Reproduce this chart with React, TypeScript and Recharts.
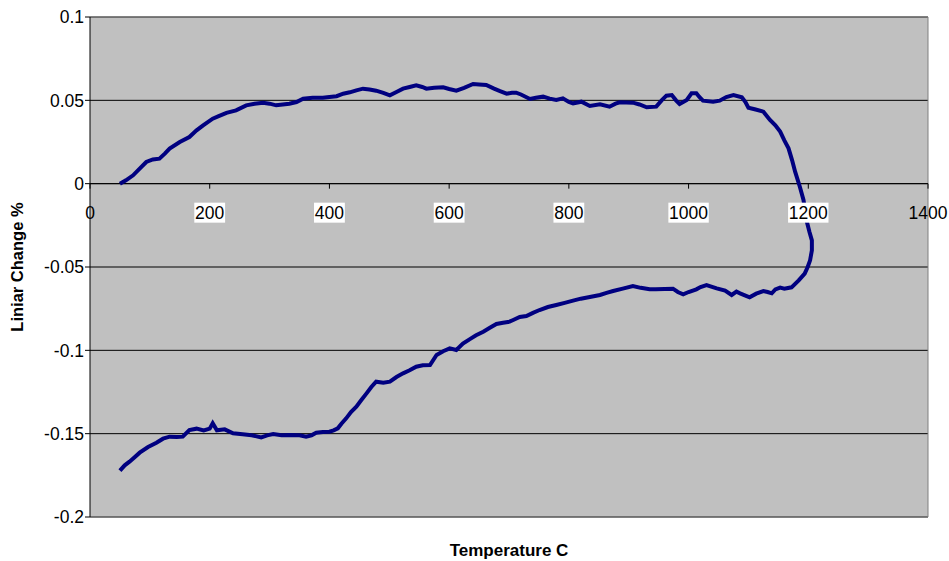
import React from 'react';
import {
    LineChart,
    Line,
    XAxis,
    YAxis,
    CartesianGrid,
    ReferenceLine,
    ReferenceDot
} from 'recharts';

// heating run then cooling run, in measurement order
const temps = [
    50, 60, 72, 83, 94, 105, 116, 125, 133, 150, 166, 178, 189, 205, 215, 228, 244, 261, 275, 289,
    300, 311, 322, 333, 345, 356, 372, 389, 400, 412, 423, 434, 445, 456, 467, 478, 490, 501, 512, 523,
    534, 545, 555, 562, 575, 590, 600, 612, 625, 640, 650, 662, 675, 685, 696, 705, 712, 720, 735, 745,
    757, 768, 779, 790, 800, 807, 821, 835, 852, 868, 878, 885, 907, 918, 930, 946, 955, 963, 972, 979,
    985, 997, 1005, 1013, 1018, 1024, 1041, 1052, 1063, 1075, 1089, 1095, 1100, 1112, 1125, 1136, 1145, 1153, 1160, 1167,
    1173, 1178, 1186, 1192, 1197, 1202, 1206, 1206, 1203, 1199, 1194, 1184, 1172, 1160, 1153, 1145, 1139, 1132, 1125, 1113,
    1102, 1094, 1086, 1080, 1072, 1061, 1047, 1030, 1020, 1013, 1000, 991, 982, 974, 960, 945, 935, 920, 907, 890,
    874, 863, 852, 835, 820, 807, 793, 779, 765, 751, 740, 729, 718, 707, 701, 690, 679, 668, 657, 645,
    634, 623, 612, 601, 590, 579, 568, 556, 545, 534, 523, 512, 501, 490, 478, 470, 462, 453, 445, 436,
    428, 420, 414, 407, 400, 389, 378, 370, 361, 350, 333, 320, 306, 296, 286, 270, 255, 239, 225, 212,
    205, 200, 190, 178, 166, 160, 155, 145, 133, 122, 111, 97, 83, 75, 66, 58, 50
];

const change = [
    0.000, 0.002, 0.005, 0.009, 0.013, 0.0145, 0.015, 0.018, 0.021, 0.025, 0.028, 0.032, 0.035, 0.039, 0.0405, 0.0425, 0.044, 0.047, 0.048, 0.0486,
    0.048, 0.047, 0.0475, 0.048, 0.049, 0.051, 0.0515, 0.0515, 0.052, 0.0525, 0.054, 0.0548, 0.056, 0.057, 0.0565, 0.0558, 0.0545, 0.053, 0.055, 0.057,
    0.058, 0.059, 0.058, 0.057, 0.0575, 0.0578, 0.0568, 0.0558, 0.0575, 0.0598, 0.0595, 0.0592, 0.057, 0.0555, 0.054, 0.0545, 0.0546, 0.0535, 0.0508, 0.0515,
    0.0522, 0.051, 0.0502, 0.0512, 0.049, 0.0482, 0.0492, 0.0466, 0.0476, 0.0462, 0.048, 0.0488, 0.0486, 0.0475, 0.0458, 0.0462, 0.050, 0.0528, 0.0532, 0.050,
    0.0478, 0.0502, 0.0542, 0.0542, 0.052, 0.0498, 0.0492, 0.0498, 0.052, 0.0532, 0.0518, 0.049, 0.0456, 0.0445, 0.0432, 0.0382, 0.035, 0.0312, 0.026, 0.0212,
    0.014, 0.0072, -0.002, -0.0098, -0.022, -0.029, -0.034, -0.040, -0.046, -0.050, -0.054, -0.058, -0.0622, -0.063, -0.0624, -0.0635, -0.0658, -0.065, -0.0644, -0.066,
    -0.0682, -0.067, -0.0658, -0.0648, -0.0668, -0.0642, -0.0628, -0.0608, -0.062, -0.0634, -0.065, -0.0664, -0.065, -0.063, -0.0632, -0.0634, -0.0634, -0.0625, -0.0614, -0.063,
    -0.0644, -0.0655, -0.0668, -0.068, -0.069, -0.0702, -0.0715, -0.0728, -0.074, -0.0758, -0.0775, -0.0794, -0.080, -0.0818, -0.0828, -0.0835, -0.0842, -0.0865, -0.0888, -0.091,
    -0.0934, -0.096, -0.0998, -0.0988, -0.1005, -0.1028, -0.1088, -0.109, -0.1098, -0.112, -0.1138, -0.116, -0.1188, -0.1195, -0.1188, -0.122, -0.1258, -0.130, -0.1338, -0.137,
    -0.1408, -0.144, -0.1468, -0.148, -0.1488, -0.149, -0.1494, -0.151, -0.1518, -0.151, -0.1508, -0.151, -0.1502, -0.151, -0.1522, -0.151, -0.1504, -0.1498, -0.1474, -0.148,
    -0.1438, -0.147, -0.148, -0.147, -0.1478, -0.150, -0.1518, -0.152, -0.1518, -0.153, -0.1554, -0.158, -0.1614, -0.164, -0.1668, -0.169, -0.1722
];

const xTicks = [0, 200, 400, 600, 800, 1000, 1200, 1400];
const yTicks = [-0.2, -0.15, -0.1, -0.05, 0, 0.05, 0.1];

const data = temps.map((t, i) => ({ t, v: change[i] }));

const FONT = '"Liberation Sans", Arial, sans-serif';

const XTickMark = (props: any) => {
    const { cx, cy, label } = props;
    const text = String(label);
    const w = text.length * 9.6 + 2;
    const boxed = label !== 0 && label !== 1400;
    return (
        <g>
            <line x1={cx} y1={cy} x2={cx} y2={cy + 5} stroke="#000" strokeWidth={1} />
            {boxed && <rect x={cx - w / 2} y={cy + 19} width={w} height={20} fill="#fff" />}
            <text x={cx} y={cy + 35.5} textAnchor="middle" fontSize={17.5} fontFamily={FONT} fill="#000">
                {text}
            </text>
        </g>
    );
};

export default function App() {
    return (
        <div style={{ width: 949, height: 561, fontFamily: FONT }}>
            <style>{'body{margin:0}'}</style>
            <LineChart width={949} height={561} data={data} margin={{ top: 17, right: 21, left: 0, bottom: 0 }}>
                <CartesianGrid vertical={false} stroke="#000" fill="#C0C0C0" fillOpacity={1} />
                <XAxis
                    type="number"
                    dataKey="t"
                    domain={[0, 1400]}
                    ticks={xTicks}
                    tick={false}
                    tickLine={false}
                    axisLine={false}
                    height={44}
                    label={{
                        value: 'Temperature C',
                        position: 'insideBottom',
                        offset: 5,
                        style: { fontWeight: 'bold', fontSize: 17, fill: '#000', fontFamily: FONT }
                    }}
                />
                <YAxis
                    type="number"
                    domain={[-0.2, 0.1]}
                    ticks={yTicks}
                    width={90}
                    tickSize={5}
                    tickMargin={1}
                    axisLine={{ stroke: '#000' }}
                    tickLine={{ stroke: '#000' }}
                    tick={{ fontSize: 17.5, fill: '#000', fontFamily: FONT }}
                    tickFormatter={(v: number) => String(v)}
                    label={{
                        value: 'Liniar Change %',
                        angle: -90,
                        position: 'insideLeft',
                        offset: 17,
                        style: { textAnchor: 'middle', fontWeight: 'bold', fontSize: 16.5, fill: '#000', fontFamily: FONT }
                    }}
                />
                <ReferenceLine y={0.1} stroke="#808080" />
                <ReferenceLine y={-0.2} stroke="#808080" />
                <ReferenceLine x={1400} stroke="#808080" />
                <ReferenceLine y={0} stroke="#000" />
                {xTicks.map(t => (
                    <ReferenceDot
                        key={t}
                        x={t}
                        y={0}
                        ifOverflow="visible"
                        shape={(p: any) => <XTickMark {...p} label={t} />}
                    />
                ))}
                <Line
                    type="linear"
                    dataKey="v"
                    stroke="#000080"
                    strokeWidth={4}
                    dot={false}
                    isAnimationActive={false}
                />
            </LineChart>
        </div>
    );
}
